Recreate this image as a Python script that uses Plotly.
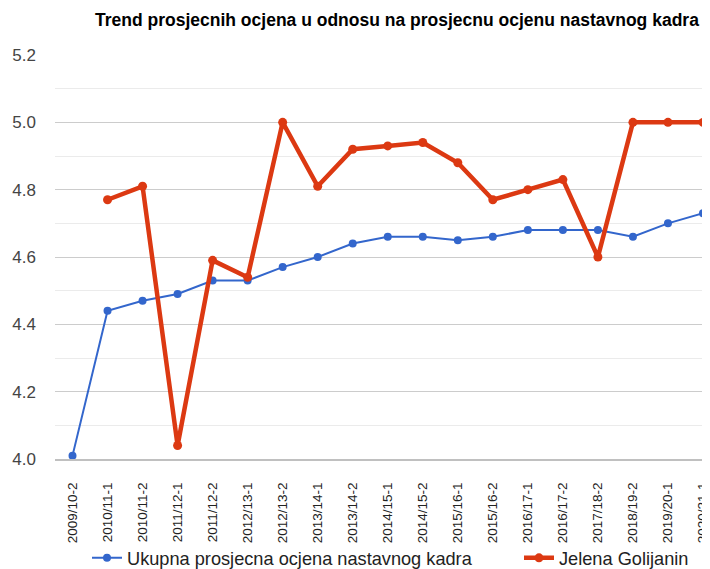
import plotly.graph_objects as go

categories = ["2009/10-2", "2010/11-1", "2010/11-2", "2011/12-1", "2011/12-2", "2012/13-1",
              "2012/13-2", "2013/14-1", "2013/14-2", "2014/15-1", "2014/15-2", "2015/16-1",
              "2015/16-2", "2016/17-1", "2016/17-2", "2017/18-2", "2018/19-2", "2019/20-1",
              "2020/21-1"]
ukupna = [4.01, 4.44, 4.47, 4.49, 4.53, 4.53, 4.57, 4.60, 4.64, 4.66, 4.66, 4.65, 4.66,
          4.68, 4.68, 4.68, 4.66, 4.70, 4.73]
jelena = [None, 4.77, 4.81, 4.04, 4.59, 4.54, 5.00, 4.81, 4.92, 4.93, 4.94, 4.88, 4.77,
          4.80, 4.83, 4.60, 5.00, 5.00, 5.00]

x_idx = list(range(len(categories)))

fig = go.Figure()
fig.add_trace(go.Scatter(
    x=x_idx, y=ukupna, mode="lines+markers",
    name="Ukupna prosjecna ocjena nastavnog kadra",
    line=dict(color="#3366cc", width=2),
    marker=dict(color="#3366cc", size=8),
    cliponaxis=False, legend="legend",
))
fig.add_trace(go.Scatter(
    x=x_idx, y=jelena, mode="lines+markers",
    name="Jelena Golijanin",
    line=dict(color="#dc3912", width=4.5),
    marker=dict(color="#dc3912", size=9),
    cliponaxis=False, legend="legend2",
))

# page has an 8px body margin; figure coordinates = page coordinates - 8
W, H = 702, 561
fig.update_layout(
    width=W, height=H,
    margin=dict(l=47, r=0, t=47, b=110, autoexpand=False),
    paper_bgcolor="white", plot_bgcolor="white",
    font=dict(family="Liberation Sans, Arial, sans-serif", size=16, color="#222222"),
    title=dict(
        text="<b>Trend prosjecnih ocjena u odnosu na prosjecnu ocjenu nastavnog kadra</b>",
        x=87 / W, xref="container", xanchor="left",
        y=1 - 12 / H, yref="container", yanchor="middle",
        font=dict(size=17.5, color="#000000"),
    ),
    showlegend=True,
    legend=dict(
        orientation="h", x=79 / W, xref="container", xanchor="left",
        y=1 - 550 / H, yref="container", yanchor="middle",
        font=dict(size=18.2, color="#222222"),
        bgcolor="rgba(0,0,0,0)", itemwidth=30,
    ),
    legend2=dict(
        orientation="h", x=511 / W, xref="container", xanchor="left",
        y=1 - 550 / H, yref="container", yanchor="middle",
        font=dict(size=18.2, color="#222222"),
        bgcolor="rgba(0,0,0,0)", itemwidth=30,
    ),
    xaxis=dict(
        range=[-0.5, 18.2],
        tickmode="array", tickvals=x_idx, ticktext=categories,
        tickangle=-90,
        tickfont=dict(size=13.5, color="#222222"),
        showgrid=False, zeroline=False,
        showline=True, linecolor="#c0c0c0", linewidth=2,
        ticks="", ticklabelstandoff=16, automargin=False,
        ticklabeloverflow="allow",
    ),
    yaxis=dict(
        range=[4.0, 5.2],
        tickmode="array", tickvals=[4.0, 4.2, 4.4, 4.6, 4.8, 5.0, 5.2],
        ticktext=["4.0", "4.2", "4.4", "4.6", "4.8", "5.0", "5.2"],
        tickfont=dict(size=17, color="#444444"),
        showgrid=True, gridcolor="#cccccc", gridwidth=1,
        minor=dict(tickvals=[4.1, 4.3, 4.5, 4.7, 4.9, 5.1], showgrid=True,
                   gridcolor="#ebebeb", gridwidth=1),
        zeroline=False, ticks="", ticklabelstandoff=18, automargin=False,
    ),
)

fig.write_html("out.html")
